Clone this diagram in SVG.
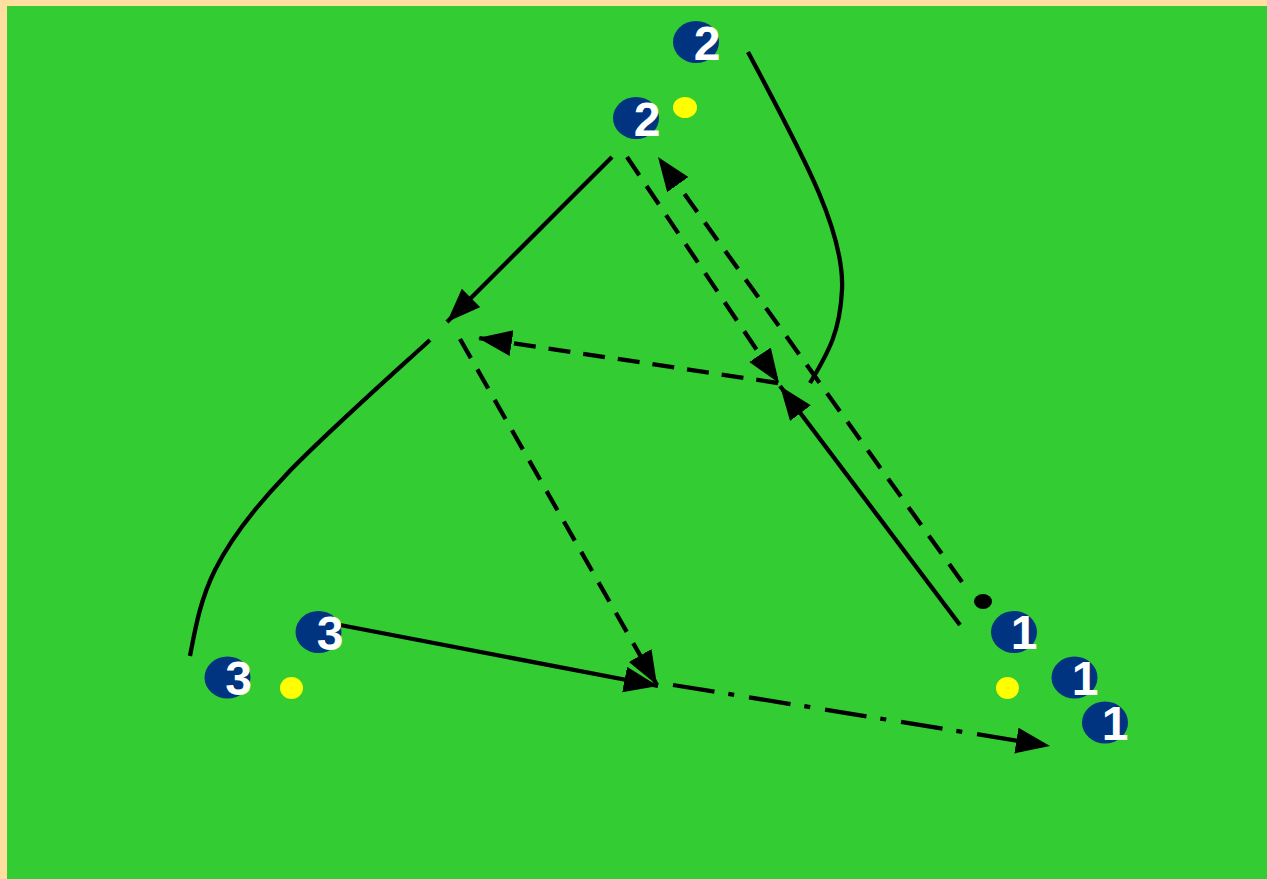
<svg xmlns="http://www.w3.org/2000/svg" width="1267" height="879" viewBox="0 0 1267 879">
<style>
.pl{fill:#003380}
.ball{fill:#FFFF00}
.lbl{font-family:"Liberation Sans",Arial,sans-serif;font-weight:bold;font-size:48px;fill:#FFFFFF;text-anchor:middle}
.ln{fill:none;stroke:#000;stroke-width:4.3}
.dash{stroke-dasharray:22 13}
.dd{stroke-dasharray:42 14 6 15}
</style>
<defs>
<marker id="ah" markerUnits="userSpaceOnUse" markerWidth="36" markerHeight="28" refX="34" refY="13" orient="auto">
<path d="M0,0 L34,13 L0,26 z" fill="#000"/>
</marker>
</defs>
<rect x="0" y="0" width="1267" height="879" fill="#FFDF9F"/>
<rect x="7" y="6" width="1260" height="873" fill="#33CC33"/>
<g id="connectors">
<path class="ln" d="M612,157 L447,322" marker-end="url(#ah)"/>
<path class="ln dash" d="M627,157 L779,383" marker-end="url(#ah)"/>
<path class="ln dash" d="M962,582 L658,157" marker-end="url(#ah)"/>
<path class="ln dash" d="M778,383 L478,338" marker-end="url(#ah)"/>
<path class="ln" d="M748,52 C800,150 845,230 842,290 C840,330 830,350 810,383"/>
<path class="ln" d="M960,625 L780,386" marker-end="url(#ah)"/>
<path class="ln" d="M430,340 C320,440 250,500 215,570 C200,600 195,630 190,656"/>
<path class="ln dash" d="M460,339 L657,685" marker-end="url(#ah)"/>
<path class="ln" d="M340,625 L658,686" marker-end="url(#ah)"/>
<path class="ln dd" d="M673,685 L1050,746" marker-end="url(#ah)"/>
</g>
<g id="p2a"><ellipse class="pl" cx="696" cy="42" rx="23" ry="21"/><text class="lbl" x="707" y="60">2</text></g>
<g id="p2b"><ellipse class="pl" cx="636" cy="118" rx="23" ry="21"/><text class="lbl" x="647" y="136">2</text></g>
<g id="ball2"><ellipse class="ball" cx="685" cy="107.5" rx="12" ry="10.5"/></g>
<g id="p1a"><ellipse class="pl" cx="1014" cy="632" rx="23" ry="21"/><text class="lbl" x="1024" y="649">1</text></g>
<g id="p1b"><ellipse class="pl" cx="1074.5" cy="677.5" rx="23" ry="21"/><text class="lbl" x="1085" y="695">1</text></g>
<g id="p1c"><ellipse class="pl" cx="1105" cy="722.5" rx="23" ry="21"/><text class="lbl" x="1115" y="740">1</text></g>
<g id="ball1"><ellipse class="ball" cx="1007.5" cy="688" rx="11.5" ry="11"/></g>
<g id="cone"><ellipse cx="983" cy="601.5" rx="9" ry="7.5" fill="#000"/></g>
<g id="p3a"><ellipse class="pl" cx="318.5" cy="632" rx="23" ry="21"/><text class="lbl" x="330" y="650">3</text></g>
<g id="p3b"><ellipse class="pl" cx="227.5" cy="677.5" rx="23" ry="21"/><text class="lbl" x="238.5" y="695">3</text></g>
<g id="ball3"><ellipse class="ball" cx="291.5" cy="688" rx="11.5" ry="11"/></g>
</svg>
